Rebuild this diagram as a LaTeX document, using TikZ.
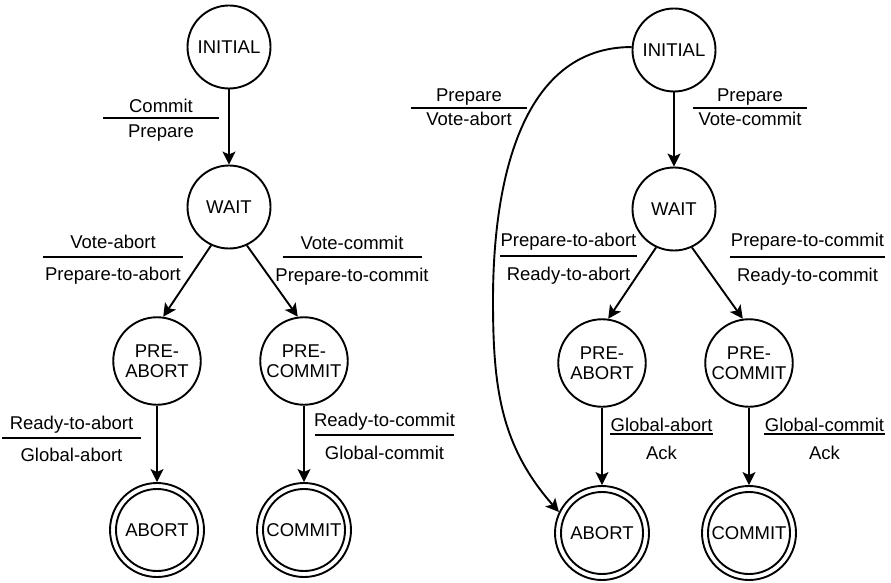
\documentclass[tikz,border=0pt]{standalone}
\usepackage{fontspec}
\setmainfont{Liberation Sans}
\usetikzlibrary{arrows.meta}
\newcommand{\translabel}[8]{%
  \node[rulebox, minimum width=#4pt] (#1) at (#2,#3) {};
  \draw[rulel] (#1.west) -- (#1.east);
  \node[lbl] (#1-t) at (#2,#6) {#5};
  \node[lbl] (#1-b) at (#2,#8) {#7};
}
\begin{document}
\begin{tikzpicture}[x=1pt,y=-1pt,
  txt/.style={font=\fontsize{18.5}{20}\selectfont},
  state/.style={circle, draw, line width=1.9pt, minimum size=83pt, inner sep=0pt, txt, align=center},
  prestate/.style={state, minimum size=87.5pt},
  finalstate/.style={state, minimum size=94pt,
    path picture={\draw[line width=1.9pt] (path picture bounding box.center) circle (41pt);}},
  arr/.style={line width=1.9pt, -{Stealth[length=13pt,width=13pt,inset=3pt]}},
  rulebox/.style={inner sep=0pt, outer sep=0pt, minimum height=0pt},
  rulel/.style={line width=1.9pt},
  lbl/.style={txt, anchor=base, inner sep=0pt}
]
\path[use as bounding box] (0,0) rectangle (891,583);

% left diagram
\node[state] (iniL) at (229,47) {INITIAL};
\node[state] (waitL) at (229,207) {WAIT};
\node[prestate] (paL) at (157,361) {PRE-\\ABORT};
\node[prestate] (pcL) at (304,361) {PRE-\\COMMIT};
\node[finalstate] (abL) at (157,530) {ABORT};
\node[finalstate] (cmL) at (304,530) {COMMIT};

\draw[arr] (iniL) -- (waitL);
\draw[arr] (waitL.245) -- (paL.82);
\draw[arr] (waitL.295) -- (pcL.98);
\draw[arr] (paL) -- (abL);
\draw[arr] (pcL) -- (cmL);

\translabel{L1}{161}{118}{116}{Commit}{113}{Prepare}{138}
\translabel{L2}{113}{257}{140}{Vote-abort}{248}{Prepare-to-abort}{280}
\translabel{L3}{352}{257}{139}{Vote-commit}{249}{Prepare-to-commit}{281}
\translabel{L4}{71.5}{438}{139}{Ready-to-abort}{429}{Global-abort}{461}
\translabel{L5}{384.5}{435}{139}{Ready-to-commit}{426}{Global-commit}{459}

% right diagram
\node[state] (iniR) at (674,50) {INITIAL};
\node[state] (waitR) at (674,209) {WAIT};
\node[prestate] (paR) at (602,363) {PRE-\\ABORT};
\node[prestate] (pcR) at (749,363) {PRE-\\COMMIT};
\node[finalstate] (abR) at (602,533) {ABORT};
\node[finalstate] (cmR) at (749,533) {COMMIT};

\draw[arr] (iniR) -- (waitR);
\draw[arr] (waitR.245) -- (paR.82);
\draw[arr] (waitR.295) -- (pcR.98);
\draw[arr] (paR) -- (abR);
\draw[arr] (pcR) -- (cmR);
\coordinate (bend) at (493,300);
\draw[arr] (iniR.176) .. controls (519,47) and (493,187) .. (bend)
  .. controls (493,386) and (500,445) .. (abR.154);

\translabel{R1}{469}{108}{116}{Prepare}{102}{Vote-abort}{126}
\translabel{R2}{750}{108}{114}{Prepare}{102}{Vote-commit}{126}
\translabel{R3}{568.5}{256}{137}{Prepare-to-abort}{246}{Ready-to-abort}{280}
\translabel{R4}{807.5}{257}{155}{Prepare-to-commit}{246}{Ready-to-commit}{281}
\translabel{R5}{661.5}{434}{103}{Global-abort}{431}{Ack}{459}
\translabel{R6}{824.5}{434}{121}{Global-commit}{431}{Ack}{459}
\end{tikzpicture}
\end{document}
